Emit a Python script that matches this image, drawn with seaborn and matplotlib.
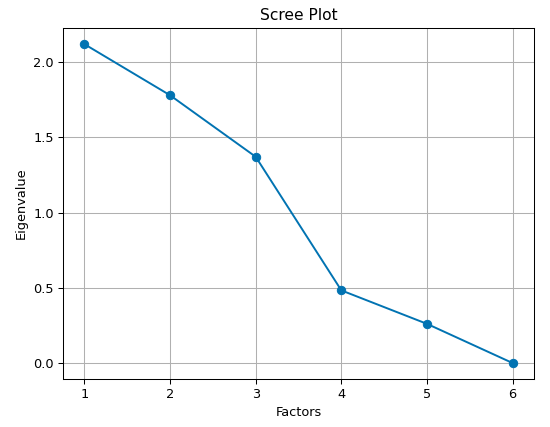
import numpy as np
import seaborn as sns
import matplotlib.pyplot as plt

# Valeurs propres
factors = [1, 2, 3, 4, 5, 6]
eigenvalues = [2.117, 1.778, 1.370, 0.484, 0.262, 0.002]

dpi = 93
fig, ax = plt.subplots(figsize=(550 / dpi, 427 / dpi), dpi=dpi)
sns.lineplot(x=factors, y=eigenvalues, marker='o', color='#0173B2',
             markeredgecolor='#0173B2', markersize=6.5, linewidth=1.5, ax=ax)
ax.set_title('Scree Plot')
ax.set_xlabel('Factors')
ax.set_ylabel('Eigenvalue')
ax.grid(True)
ax.set_xticks(factors)
fig.subplots_adjust(left=0.1145, right=0.971, top=0.934, bottom=0.1124)
fig.savefig('out.png', dpi=dpi)
